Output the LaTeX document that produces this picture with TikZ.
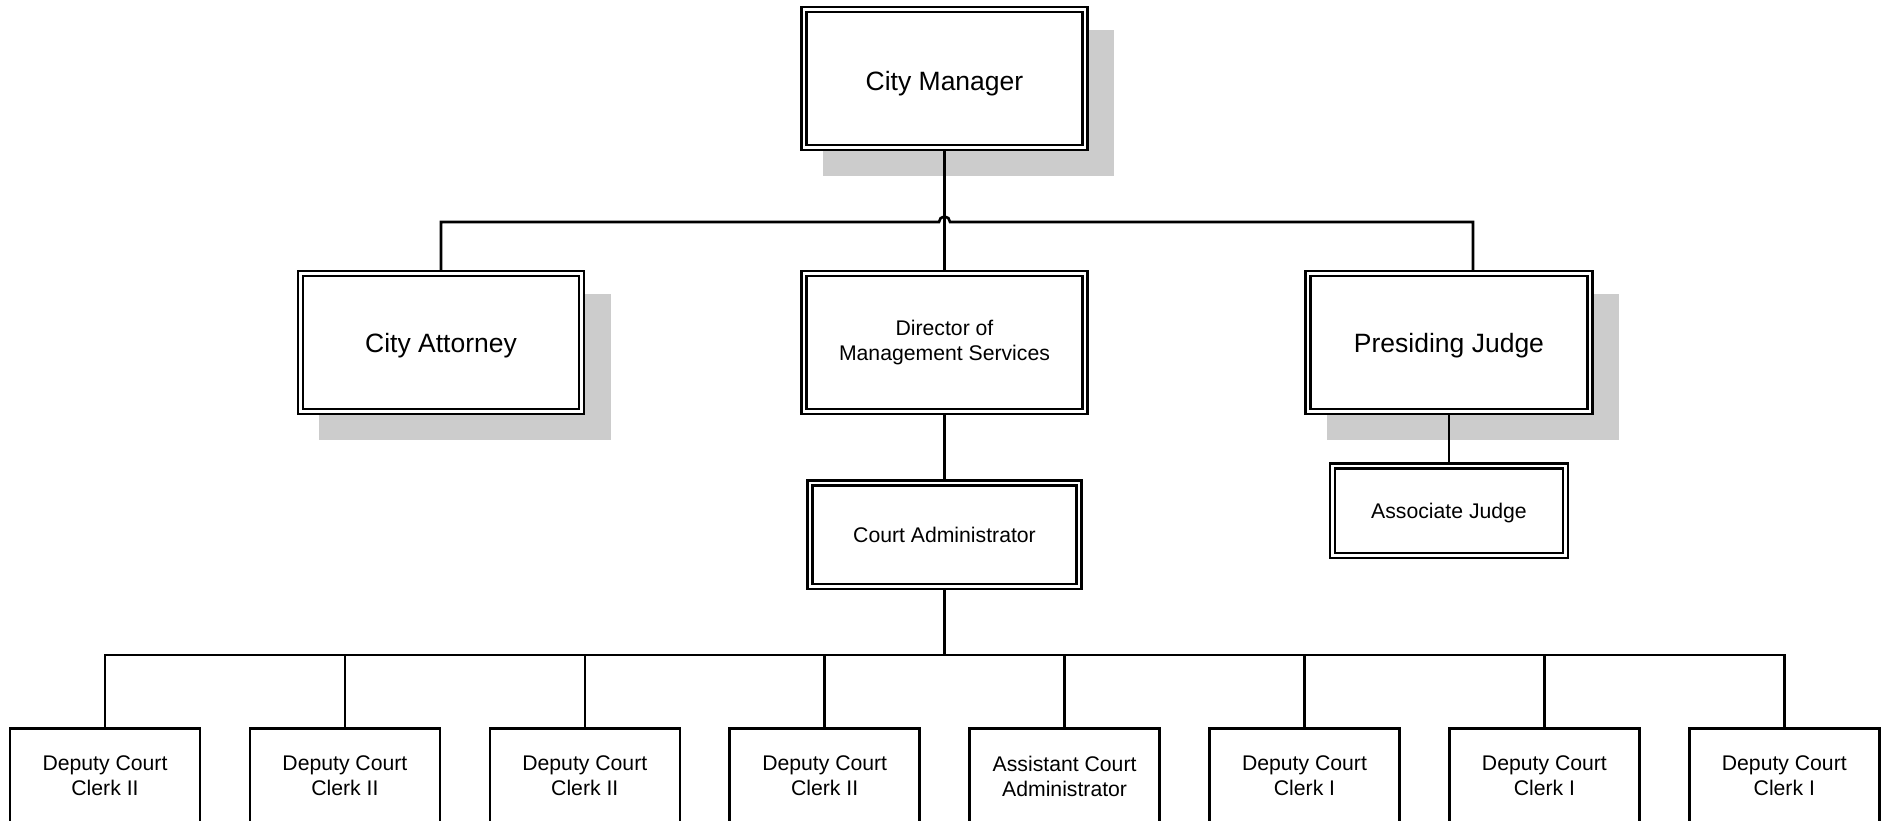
\documentclass[tikz,border=0pt]{standalone}
\usepackage{fontspec}
\setmainfont{Liberation Sans}
\usepackage{tikz}
\usetikzlibrary{calc,backgrounds}

\tikzset{
	post/.style={draw=black, double, line width=2.3pt, double distance=2.7pt, fill=white, inner sep=0pt, outer sep=0pt, align=center},
	bigpost/.style={post, font=\fontsize{26.5}{31}\selectfont, text height=19pt, text depth=0pt},
	smallpost/.style={post, font=\fontsize{21.2}{25}\selectfont},
	oneline/.style={text height=15.2pt, text depth=0pt},
	clerk/.style={draw=black, line width=2.6pt, fill=white, minimum width=190pt, minimum height=95pt, inner sep=0pt, outer sep=0pt, align=center, font=\fontsize{21.2}{25}\selectfont},
	link/.style={line width=2.6pt},
	dropfill/.style={fill=black!20}
}

\begin{document}
\begin{tikzpicture}[x=1pt, y=-1pt]
			%%%%% START %%%%%
			
			\useasboundingbox (0, 0) rectangle (1887, 821);
			\clip (0, 0) rectangle (1887, 821);
			
			\node[bigpost, text height=25pt, minimum width=281pt, minimum height=137.7pt] (cm) at (944.5, 78.5) {City Manager};
			
			\node[bigpost, minimum width=281.5pt, minimum height=137.7pt] (ca) at (441, 342.65) {City Attorney};
			\node[smallpost, minimum width=281pt, minimum height=137.7pt] (dms) at (944.5, 342.65) {Director of\\Management Services};
			\node[bigpost, minimum width=282pt, minimum height=137.7pt] (pj) at (1449, 342.65) {Presiding Judge};
			
			\node[smallpost, oneline, minimum width=269pt, minimum height=103.4pt] (cadm) at (944.5, 534.65) {Court Administrator};
			\node[smallpost, oneline, minimum width=233.3pt, minimum height=89.4pt] (aj) at (1449, 510.65) {Associate Judge};
			
			\foreach \i/\txt in {1/{Deputy Court\\Clerk II}, 2/{Deputy Court\\Clerk II}, 3/{Deputy Court\\Clerk II}, 4/{Deputy Court\\Clerk II}, 5/{Assistant Court\\Administrator}, 6/{Deputy Court\\Clerk I}, 7/{Deputy Court\\Clerk I}, 8/{Deputy Court\\Clerk I}}
				\node[clerk] (c\i) at ({105 + 239.9*(\i-1)}, 776) {\txt};
			
			\coordinate (hop) at (944.5, 222);
			\coordinate (bus) at (944.5, 655);
			
			\begin{scope}[on background layer]
				\foreach \n in {cm, ca, pj}
					\fill[dropfill] ($(\n.south west)+(19, 28.5)$) rectangle ($(\n.north east)+(29, 20)$);
				
				\draw[link] (cm.south) -- (dms.north);
				\draw[link] (ca.north) |- ($(hop)+(-5.5, 0)$) arc (180:360:5.5) -| ($(pj.north)+(24, 0)$);
				\draw[link] (dms.south) -- (cadm.north);
				\draw[link] (pj.south) -- (aj.north);
				
				\draw[link] (cadm.south) -- (bus);
				\draw[link] (c1.north) -- (c1.north |- bus) -- (c8.north |- bus) -- (c8.north);
				\foreach \i in {2,...,7}
					\draw[link] (c\i.north) -- (c\i.north |- bus);
			\end{scope}
			
			%%%%% END %%%%%
\end{tikzpicture}
\end{document}
